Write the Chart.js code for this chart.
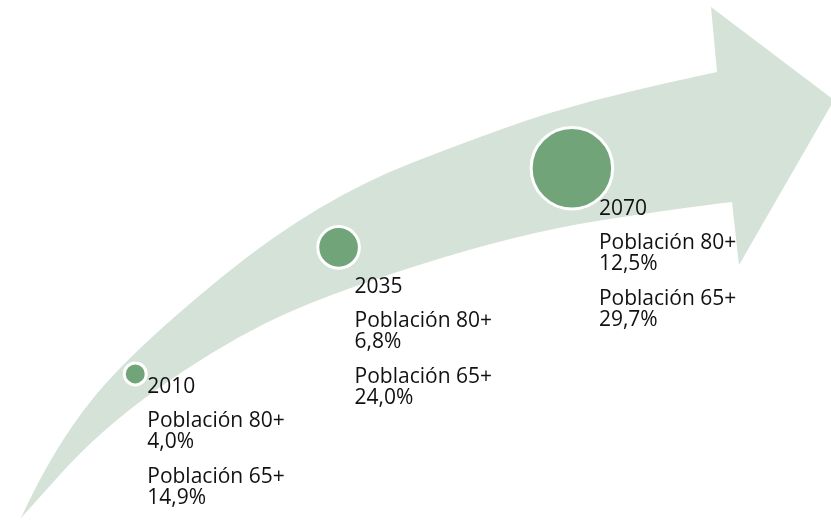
<!DOCTYPE html>
<html>
<head>
<meta charset="utf-8">
<script src="https://cdn.jsdelivr.net/npm/chart.js@4"></script>
<style>
  html, body { margin: 0; padding: 0; background: #fff; }
  #wrap { width: 831px; height: 521px; position: relative; }
</style>
</head>
<body>
<div id="wrap"><canvas id="chart"></canvas></div>
<script>
// Data
const years = ['2010', '2035', '2070'];
const pop80 = [4.0, 6.8, 12.5];    // Población 80+ (%)
const pop65 = [14.9, 24.0, 29.7];  // Población 65+ (%)

const fmt = v => v.toFixed(1).replace('.', ',') + '%';

// Background arrow (decorative shape, in canvas proportions of 831x521)
const arrowUpper = [[21, 518], [53, 448], [132, 350], [318, 199], [510, 125], [593, 100], [680, 80], [717, 72]];
const arrowHead = [[711, 7], [834, 100], [739, 265], [732, 202]];
const arrowLower = [[732, 202], [680, 208], [520, 233], [318, 297], [212, 350], [100, 430], [21, 518]];

function smoothThrough(ctx, pts, sx, sy) {
    // quadratic curves through midpoints
    for (let i = 1; i < pts.length - 1; i++) {
        const mx = (pts[i][0] + pts[i + 1][0]) / 2;
        const my = (pts[i][1] + pts[i + 1][1]) / 2;
        ctx.quadraticCurveTo(pts[i][0] * sx, pts[i][1] * sy, mx * sx, my * sy);
    }
    const last = pts[pts.length - 1];
    ctx.lineTo(last[0] * sx, last[1] * sy);
}

const arrowPlugin = {
    id: 'arrow',
    beforeDatasetsDraw(chart) {
        const ctx = chart.ctx;
        const sx = chart.width / 831, sy = chart.height / 521;
        ctx.save();
        ctx.fillStyle = '#d5e2d8';
        ctx.beginPath();
        ctx.moveTo(arrowUpper[0][0] * sx, arrowUpper[0][1] * sy);
        smoothThrough(ctx, arrowUpper, sx, sy);
        arrowHead.forEach(p => ctx.lineTo(p[0] * sx, p[1] * sy));
        smoothThrough(ctx, arrowLower, sx, sy);
        ctx.closePath();
        ctx.fill();
        ctx.restore();
    }
};

// text block offsets from each bubble centre
const labelOffsets = [[12, 19], [16, 46], [27, 47]];

const labelPlugin = {
    id: 'labels',
    afterDatasetsDraw(chart) {
        const ctx = chart.ctx;
        const meta = chart.getDatasetMeta(0);
        ctx.save();
        ctx.fillStyle = '#111';
        ctx.font = '21px "Open Sans", sans-serif';
        ctx.textAlign = 'left';
        ctx.textBaseline = 'alphabetic';
        meta.data.forEach((pt, i) => {
            const x = pt.x + labelOffsets[i][0];
            const y = pt.y + labelOffsets[i][1];
            ctx.fillText(years[i], x, y);
            ctx.fillText('Población 80+', x, y + 34);
            ctx.fillText(fmt(pop80[i]), x, y + 55);
            ctx.fillText('Población 65+', x, y + 90);
            ctx.fillText(fmt(pop65[i]), x, y + 111);
        });
        ctx.restore();
    }
};

new Chart(document.getElementById('chart'), {
    type: 'bubble',
    data: {
        datasets: [{
            label: 'Población',
            data: years.map((y, i) => ({ x: pop80[i], y: pop65[i], r: pop80[i] * 3.5 - 3 })),
            backgroundColor: '#72a479',
            borderColor: '#ffffff',
            borderWidth: 3,
            hoverBorderWidth: 3,
            clip: false
        }]
    },
    options: {
        responsive: true,
        maintainAspectRatio: false,
        animation: false,
        layout: { autoPadding: false, padding: { left: 25, right: 79, top: 25, bottom: 79 } },
        scales: {
            x: { type: 'logarithmic', min: 3, max: 20, display: false },
            y: { type: 'linear', min: 10, max: 40, display: false }
        },
        plugins: {
            legend: { display: false },
            tooltip: { enabled: false }
        }
    },
    plugins: [arrowPlugin, labelPlugin]
});
</script>
</body>
</html>
